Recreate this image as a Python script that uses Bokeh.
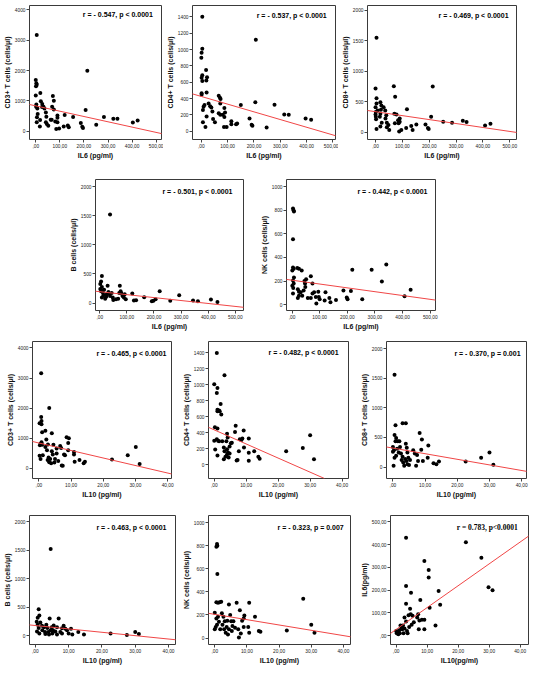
from bokeh.plotting import figure
from bokeh.layouts import row, column, Spacer
from bokeh.models import Range1d, FixedTicker, Slope, Label
from bokeh.embed import file_html
from bokeh.resources import INLINE

# ---------------- data ----------------
IL6_TICKS = [0, 100, 200, 300, 400, 500]
IL6_TICK_LABELS = [",00", "100,00", "200,00", "300,00", "400,00", "500,00"]
IL10_TICKS = [0, 10, 20, 30, 40]
IL10_TICK_LABELS = [",00", "10,00", "20,00", "30,00", "40,00"]

# IL6 vs CD3
p1_x = [4, 214, 0, 2.5, 1, 4, 0, 2.5, 1.5, 6.5, 8, 5, 4, 19, 21, 27, 26, 32, 18, 17, 36, 42, 44, 42, 46, 52, 62, 71, 75, 68,
        75, 66, 81, 90, 90, 90, 85, 97, 116, 120, 133, 137, 155, 187, 193, 196, 207, 251, 283, 322, 339, 403, 423]
p1_y = [3170, 1990, 1690, 1580, 1480, 1530, 1180, 880, 810, 750, 570, 460, 300, 1260, 990, 900, 800, 810, 370, 160, 750, 620,
        480, 300, 240, 180, 380, 1160, 1010, 810, 720, 380, 320, 300, 520, 450, 80, 90, 160, 540, 190, 130, 470, 270, 150, 110,
        700, 220, 470, 410, 410, 290, 360]
# IL6 vs CD4
p2_x = [3.6, 207, 3.6, 1, 0, 3.6, 1, 3.6, 18, 21.6, 19, 20, 1, 1, 6, 8.4, 12, 6, 15.6, 20, 27.6, 33.6, 38, 42, 44.6, 51.6, 66,
        70.7, 73, 72, 66, 72, 81.5, 87.5, 87.5, 90, 86, 96, 114, 114, 132, 136, 150, 183, 191, 194, 205, 248, 278, 315, 332,
        396, 417]
p2_y = [1400, 1120, 1010, 960, 900, 685, 655, 615, 750, 660, 620, 475, 465, 445, 260, 300, 320, 110, 50, 180, 340, 305, 290,
        240, 150, 110, 435, 410, 395, 340, 220, 200, 200, 285, 175, 230, 50, 50, 120, 85, 85, 95, 320, 155, 80, 65, 355, 45,
        325, 205, 200, 155, 140]
# IL6 vs CD8
p3_x = [3.6, 0, 3.6, 0, 3.6, 1, 0, 1, 2, 3.6, 8, 18, 21.6, 20, 18, 16, 23, 18, 30, 36, 40, 37, 42, 42, 48, 51, 68, 73, 70, 72,
        78, 84, 86, 90, 90, 88, 96, 117, 114, 133, 138, 152, 186, 195, 198, 207, 213, 252, 285, 325, 339, 408, 428]
p3_y = [1550, 715, 555, 410, 470, 330, 290, 250, 210, 50, 355, 490, 435, 365, 300, 250, 155, 90, 410, 355, 275, 225, 155, 80,
        115, 35, 755, 580, 300, 145, 290, 195, 145, 225, 170, 10, 35, 375, 65, 100, 35, 125, 125, 65, 50, 250, 750, 170, 155,
        185, 165, 110, 135]
# IL6 vs B cells
p4_x = [38, 8, 5, 2, 8, 5, 12, 14, 8, 20, 29, 26, 24, 32, 38, 44, 48, 50, 60, 68, 74, 77, 72, 80, 84, 89, 92, 96, 120, 126,
        134, 164, 192, 198, 206, 221, 260, 293, 344, 362, 410, 434, 2, 10, 16, 35]
p4_y = [1520, 465, 370, 330, 275, 205, 175, 135, 95, 75, 300, 150, 110, 190, 120, 175, 95, 55, 65, 75, 300, 205, 175, 165, 120,
        95, 150, 65, 165, 45, 50, 100, 30, 40, 65, 205, 40, 135, 45, 30, 60, 20, 240, 210, 230, 160]
# IL6 vs NK cells
p5_x = [3.5, 5.5, 7, 3.5, 3.5, 6, 1, 7, 3.5, 6, 1, 4.5, 3.5, 19, 25, 35, 21, 25, 25, 21, 31, 37, 45, 47, 48, 51, 42, 57, 68,
        74, 74, 80, 68, 86, 88, 95, 97, 100, 121, 118, 135, 139, 159, 186, 198, 201, 213, 218, 254, 288, 325, 341, 407, 429]
p5_y = [815, 800, 790, 555, 315, 305, 290, 230, 205, 180, 160, 140, 95, 310, 305, 290, 130, 110, 75, 55, 105, 75, 200, 180, 150,
        215, 120, 55, 240, 180, 95, 105, 55, 65, 10, 110, 65, 45, 105, 35, 55, 20, 40, 120, 60, 45, 115, 295, 45, 295, 195, 340,
        70, 125]
# IL10 vs CD3
p6_x = [0.7, 3.2, 0.7, 0.8, 0.2, 0.8, 1.0, 2.0, 0.8, 0.5, 0.3, 1.0, 0.2, 0.5, 1.2, 2.3, 2.0, 2.8, 2.5, 3.0, 2.7, 3.2, 3.8, 3.5,
        4.0, 4.5, 4.0, 4.3, 4.8, 5.0, 5.5, 5.5, 6.0, 6.6, 6.9, 7.1, 7.4, 7.8, 8.1, 8.6, 9.3, 9.1, 9.1, 10.9, 10.9, 11.1, 12.6,
        13.9, 14.3, 22.7, 27.6, 30.1, 31.3]
p6_y = [3160, 2000, 1700, 1570, 1490, 1460, 1190, 1240, 865, 810, 760, 780, 410, 300, 430, 950, 700, 790, 595, 350, 270, 195,
        160, 300, 1160, 780, 560, 450, 185, 300, 490, 650, 240, 735, 670, 85, 75, 450, 430, 1030, 995, 840, 595, 540, 450, 215,
        270, 160, 215, 290, 430, 700, 140]
# IL10 vs CD4
p7_x = [0.8, 3.2, 0, 1.0, 0.8, 2.0, 1.0, 1.5, 1.0, 1.7, 2.2, 0.2, 1.0, 0.3, 0, 0.8, 1.2, 1.5, 1.0, 2.5, 3.0, 3.2, 3.0, 3.8,
        4.0, 4.2, 4.0, 4.3, 4.8, 4.8, 5.2, 5.5, 4.0, 3.5, 4.5, 6.5, 6.7, 7.0, 7.3, 7.7, 8.0, 8.5, 8.8, 9.2, 9.3, 10.8, 10.8,
        10.8, 12.5, 13.8, 14.2, 22.5, 27.7, 30.0, 31.2]
p7_y = [1400, 1120, 1010, 960, 900, 760, 690, 680, 670, 670, 630, 470, 455, 190, 300, 320, 300, 295, 115, 295, 215, 170, 70,
        295, 390, 340, 195, 155, 230, 140, 270, 275, 130, 100, 90, 410, 490, 55, 60, 170, 320, 310, 330, 430, 215, 330, 150, 50,
        170, 100, 75, 170, 210, 370, 70]
# IL10 vs CD8
p8_x = [0.5, 0.8, 0.5, 1.0, 0.8, 0, 0, 0.3, 0.5, 0.2, 1.0, 1.3, 1.5, 2.0, 2.2, 1.8, 2.5, 2.7, 3.0, 3.2, 3.5, 3.0, 4.0, 4.0,
        4.3, 4.5, 3.8, 4.2, 4.8, 5.0, 5.3, 4.5, 6.3, 6.8, 7.2, 7.5, 7.8, 8.3, 9.0, 8.8, 9.3, 10.8, 11.0, 12.6, 13.5, 14.3, 22.6,
        27.4, 30.0, 31.2]
p8_y = [1560, 705, 540, 490, 435, 340, 260, 285, 160, 25, 190, 310, 435, 435, 340, 245, 230, 120, 175, 80, 25, 740, 740, 395,
        325, 245, 135, 105, 160, 35, 120, 50, 285, 230, 25, 205, 105, 575, 465, 295, 105, 160, 365, 65, 50, 95, 95, 160, 245, 40]
# IL10 vs B cells
p9_x = [4.6, 1.0, 1.2, 0.7, 0.4, 0.7, 1.0, 0.5, 1.2, 2.0, 2.1, 2.6, 2.9, 3.3, 3.6, 3.9, 4.1, 4.3, 4.6, 4.9, 5.1, 5.3, 6.0, 6.5,
        7.0, 6.5, 7.5, 8.0, 8.5, 9.0, 9.5, 10.0, 10.7, 11.1, 12.9, 14.6, 22.6, 27.5, 30.0, 31.1, 1.5, 3.0, 5.5, 8.0]
p9_y = [1520, 465, 355, 315, 245, 190, 135, 75, 40, 175, 95, 150, 65, 190, 135, 65, 20, 300, 95, 150, 40, 95, 75, 20, 300, 150,
        65, 40, 175, 120, 95, 40, 120, 20, 65, 20, 40, 10, 65, 30, 230, 30, 180, 130]
# IL10 vs NK cells
p10_x = [0.7, 0.8, 0.5, 0.8, 0.5, 1.0, 1.5, 2.0, 0.3, 0, 0.5, 0, 1.0, 0.7, 1.3, 1.7, 2.2, 2.4, 2.7, 2.9, 3.1, 3.4, 3.7, 3.9,
         4.1, 4.4, 4.4, 4.8, 5.1, 5.3, 5.5, 5.8, 6.3, 6.8, 7.3, 7.5, 7.8, 8.1, 8.5, 9.0, 9.2, 9.0, 10.4, 10.7, 10.7, 12.5, 13.7,
         14.2, 22.4, 27.5, 30.0, 31.0]
p10_y = [815, 800, 790, 555, 310, 305, 310, 315, 95, 75, 170, 220, 185, 115, 140, 75, 215, 115, 185, 75, 145, 45, 95, 150, 30,
         75, 290, 200, 145, 60, 105, 145, 90, 305, 75, 5, 240, 40, 150, 170, 195, 95, 95, 305, 45, 185, 60, 55, 65, 340, 115, 45]
# IL10 vs IL6
p11_x = [3.2, 22.5, 27.5, 9.1, 10.5, 10.5, 3.2, 29.8, 31.1, 13.7, 4.8, 7.8, 14.2, 3.2, 10.8, 4.5, 2.7, 3.2, 4.0, 4.7, 5.3, 5.0,
         4.2, 3.5, 5.7, 6.8, 7.1, 7.3, 7.5, 8.3, 9.1, 9.1, 12.7, 2.2, 2.0, 1.4, 1.0, 0.4, 0, 0.2, 0.7, 1.2, 2.4, 2.7, 1.7, 3.7]
p11_y = [430, 410, 342, 328, 289, 255, 218, 213, 199, 196, 188, 157, 136, 140, 122, 118, 80, 62, 90, 94, 87, 48, 38, 20, 59, 80,
         94, 28, 66, 70, 70, 28, 45, 45, 28, 45, 24, 14, 20, 10, 6, 10, 10, 31, 31, 10]

# regression lines (intercept, slope) and correlation texts
fit_intercepts = [837, 425, 335, 196, 207, 836, 437, 321, 178, 205, 27.3]
fit_slopes = [-1.746, -0.943, -0.649, -0.506, -0.325, -25.0, -17.66, -9.45, -5.93, -4.6, 9.6]
r_texts = ["r = - 0.547, p < 0.0001", "r = - 0.537, p < 0.0001", "r = - 0.469, p < 0.0001",
           "r = - 0.501, p < 0.0001", "r = - 0.442, p < 0.0001",
           "r = - 0.465, p < 0.0001", "r = - 0.482, p < 0.0001", "r = - 0.370, p = 0.001",
           "r = - 0.463, p < 0.0001", "r = - 0.323, p = 0.007", "r = 0.783, p<0.0001"]
y_names = ["CD3+ T cells (cells/\u03bcl)", "CD4+ T cells (cells/\u03bcl)", "CD8+ T cells (cells/\u03bcl)",
           "B cells (cells/\u03bcl)", "NK cells (cells/\u03bcl)",
           "CD3+ T cells (cells/\u03bcl)", "CD4+ T cells (cells/\u03bcl)", "CD8+ T cells (cells/\u03bcl)",
           "B cells (cells/\u03bcl)", "NK cells (cells/\u03bcl)", "IL6(pg/ml)"]
x_names = ["IL6 (pg/ml)"] * 5 + ["IL10 (pg/ml)"] * 5 + ["IL10(pg/ml)"]
Y_TICKS = [[0, 1000, 2000, 3000, 4000], [0, 200, 400, 600, 800, 1000, 1200, 1400], [0, 500, 1000, 1500, 2000],
           [0, 500, 1000, 1500, 2000], [0, 200, 400, 600, 800, 1000],
           [0, 1000, 2000, 3000, 4000], [0, 200, 400, 600, 800, 1000, 1200, 1400], [0, 500, 1000, 1500, 2000],
           [0, 500, 1000, 1500, 2000], [0, 200, 400, 600, 800, 1000], [0, 100, 200, 300, 400, 500]]
IL6_Y_TICK_LABELS = [",00", "100,00", "200,00", "300,00", "400,00", "500,00"]

XS = [p1_x, p2_x, p3_x, p4_x, p5_x, p6_x, p7_x, p8_x, p9_x, p10_x, p11_x]
YS = [p1_y, p2_y, p3_y, p4_y, p5_y, p6_y, p7_y, p8_y, p9_y, p10_y, p11_y]

# ---------------- layout (reference pixel geometry) ----------------
SX = 530 / 546
SY = 668 / 684


def X(v):
    return int(round(v * SX))


def Y(v):
    return int(round(v * SY))


ROWS = [(0, 165), (165, 343), (343, 512), (512, 684)]
# cell x0, x1, frame left, right, top, bottom, row, label offsets
GEOM = [
    (0, 168, 24, 166, 5, 142, 0, 9, 9),
    (168, 348, 194, 345, 5, 144, 0, 9, 10),
    (348, 546, 377, 532, 5, 143, 0, 8, 10),
    (66, 265, 98, 250, 183, 318, 1, 11, 12),
    (265, 462, 295, 448, 183, 317, 1, 8, 12),
    (0, 184, 33, 176, 348, 489, 2, 5, 12),
    (184, 368, 213, 359, 349, 492, 2, 10, 11),
    (368, 546, 397, 542, 348, 489, 2, 6, 12),
    (0, 184, 30, 180, 525, 662, 3, 9, 12),
    (184, 368, 210, 361, 525, 659, 3, 7, 12),
    (368, 546, 397, 544, 527, 662, 3, 11, 12),
]
XR = [(-26, 522), (-33.6, 509.6), (-30, 525), (-15.6, 530), (-20, 519),
      (-2.0, 41.2), (-1.8, 42.0), (-2.0, 41.5), (-1.76, 42.1), (-1.95, 42.2), (-1.82, 42.7)]
YR = [(-269, 4140), (-102, 1539), (-122, 2080), (-127, 2122), (-50, 1061),
      (-346, 4216), (-172, 1544), (-192, 2120), (-155, 2110), (-56, 1061), (-39, 528)]

FONT = "Liberation Sans"


def make_panel(i):
    cx0, cx1, fl, fr, ft, fb, ri, ox, oy = GEOM[i]
    ry0, ry1 = ROWS[ri]
    w = X(cx1) - X(cx0)
    h = Y(ry1) - Y(ry0)
    fw = X(fr) - X(fl)
    fh = Y(fb) - Y(ft)
    p = figure(width=w, height=h, output_backend="svg", toolbar_location=None,
               x_range=Range1d(*XR[i]), y_range=Range1d(*YR[i]),
               min_border_left=X(fl) - X(cx0), min_border_right=X(cx1) - X(fr),
               min_border_top=Y(ft) - Y(ry0), min_border_bottom=Y(ry1) - Y(fb))
    p.background_fill_color = "white"
    p.border_fill_color = "white"
    p.outline_line_color = "#3a3a3a"
    p.outline_line_width = 1
    p.xgrid.visible = False
    p.ygrid.visible = False

    if i < 5:
        xt, xl = IL6_TICKS, IL6_TICK_LABELS
    else:
        xt, xl = IL10_TICKS, IL10_TICK_LABELS
    p.xaxis.ticker = FixedTicker(ticks=xt)
    p.xaxis.major_label_overrides = {t: s for t, s in zip(xt, xl)}
    p.yaxis.ticker = FixedTicker(ticks=Y_TICKS[i])
    if i == 10:
        p.yaxis.major_label_overrides = {t: s for t, s in zip(Y_TICKS[i], IL6_Y_TICK_LABELS)}
    p.xaxis.axis_label = x_names[i]
    p.yaxis.axis_label = y_names[i]
    for ax in (p.xaxis[0], p.yaxis[0]):
        ax.axis_line_color = None
        ax.major_tick_out = 3
        ax.major_tick_in = 0
        ax.major_tick_line_color = "#444444"
        ax.minor_tick_line_color = None
        ax.major_label_text_font = FONT
        ax.major_label_text_font_size = "4.8px"
        ax.major_label_text_color = "#222222"
        ax.major_label_standoff = 1
        ax.axis_label_standoff = 1
        ax.axis_label_text_font = FONT
        ax.axis_label_text_font_size = "7px"
        ax.axis_label_text_font_style = "bold"
        ax.axis_label_text_color = "#111111"

    p.add_layout(Slope(gradient=fit_slopes[i], y_intercept=fit_intercepts[i],
                       line_color="#f04646", line_width=1))
    p.scatter(XS[i], YS[i], size=4, fill_color="black", line_color=None)

    x0, x1 = XR[i]
    y0, y1 = YR[i]
    lx = x1 - (x1 - x0) * X(ox) / fw
    ly = y1 - (y1 - y0) * Y(oy) / fh
    serif = (i == 10)
    p.add_layout(Label(x=lx, y=ly, text=r_texts[i], text_align="right", text_baseline="middle",
                       text_font="Liberation Serif" if serif else FONT,
                       text_font_size="7px" if not serif else "7.5px",
                       text_font_style="bold", text_color="black"))
    return p


panels = [make_panel(i) for i in range(11)]

r1 = row(panels[0], panels[1], panels[2])
r2 = row(Spacer(width=X(66), height=Y(343) - Y(165)), panels[3], panels[4],
         Spacer(width=X(546) - X(462), height=Y(343) - Y(165)))
r3 = row(panels[5], panels[6], panels[7])
r4 = row(panels[8], panels[9], panels[10])
layout = column(r1, r2, r3, r4)

open("out.html", "w").write(file_html(layout, INLINE))
